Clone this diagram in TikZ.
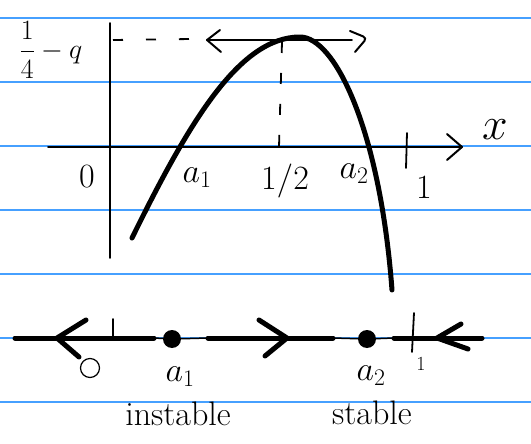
\RequirePackage{fix-cm}
\documentclass[tikz,border=0pt]{standalone}
\usepackage{amsmath}
\begin{document}
\begin{tikzpicture}[x=1pt,y=-1pt,
  ruled/.style={draw={rgb,255:red,70;green,160;blue,255},line width=1.2pt},
  axisline/.style={line width=1.8pt,line cap=round},
  curveline/.style={line width=5pt,line cap=round,line join=round},
  thickseg/.style={line width=5pt,line cap=round},
  thinseg/.style={line width=1.5pt},
  chev/.style={line width=2pt,line cap=round,line join=round},
  chevthick/.style={line width=5pt,line cap=round,line join=round},
  dotnode/.style={circle,fill=black,inner sep=0pt,minimum size=18pt},
  opennode/.style={circle,draw=black,line width=1.2pt,inner sep=0pt,minimum size=19pt},
  lbl/.style={inner sep=0pt,font=\fontsize{34}{34}\selectfont},
  wordlbl/.style={inner sep=0pt,font=\fontsize{34}{34}\selectfont}]
\useasboundingbox (0,0) rectangle (531,444);
\fill[white] (0,0) rectangle (531,444);
% ruled paper lines
\foreach \yy in {18,82,146,210,274,338,402}{
  \draw[ruled] (0,\yy) -- (531,\yy);
}
% axes
\coordinate (yb) at (110,258);
\coordinate (yt) at (110,23);
\coordinate (xl) at (48,147);
\coordinate (xr) at (462,147);
\draw[axisline] (yb) -- (yt);
\draw[axisline] (xl) -- (xr);
\draw[chev] (447,134) -- (xr) -- (447,160);
\node[inner sep=0pt,font=\fontsize{46}{46}\selectfont] (xlab) at (495,130) {$x$};
% tick at 1
\coordinate (t1a) at (407,133);
\coordinate (t1b) at (406,168);
\draw[axisline] (t1a) -- (t1b);
\node[lbl] (one) at (424,188) {$1$};
\node[lbl] (zero) at (87,177) {$0$};
\node[lbl] (a1lab) at (197,178) {$a_1$};
\node[lbl] (halflab) at (285,181) {$1/2$};
\node[lbl] (a2lab) at (354,174) {$a_2$};
% level label
\node[inner sep=0pt,font=\fontsize{28}{28}\selectfont] (qlab) at (51,50) {$\dfrac{1}{4}-q$};
% dashed guides
\coordinate (dh1) at (113,40);
\coordinate (dh2) at (192,39);
\draw[axisline,dash pattern=on 10pt off 23pt,line cap=butt] (dh1) -- (dh2);
\coordinate (dv1) at (282,42);
\coordinate (dv2) at (279,147);
\draw[axisline,dash pattern=on 11pt off 20pt,line cap=butt] (dv1) -- (dv2);
% double arrow at the top
\coordinate (hl) at (207,40);
\coordinate (hr) at (352,40);
\draw[axisline] (hl) -- (hr);
\draw[chev] (220,30) -- (hl) -- (221,52);
\draw[chev,rounded corners=4pt] (350,31) -- (367,38) -- (355,52);
% the curve
\coordinate (cs) at (132,238);
\coordinate (cp) at (300,37);
\coordinate (ce) at (392,290);
\draw[curveline] (cs) .. controls (190,120) and (240,37) .. (cp)
  .. controls (335,37) and (380,130) .. (ce);
% phase line
\node[dotnode] (d1) at (172,339) {};
\node[dotnode] (d2) at (367,339) {};
\coordinate (p0) at (15,338);
\coordinate (p1) at (154,338);
\coordinate (p2) at (208,338);
\coordinate (p3) at (333,338);
\coordinate (p4) at (394,338);
\coordinate (p5) at (482,338);
\draw[thickseg] (p0) -- (p1);
\draw[thinseg] (p1) -- (d1) -- (p2);
\draw[thickseg] (p2) -- (p3);
\draw[thinseg] (p3) -- (d2) -- (p4);
\draw[thickseg] (p4) -- (p5);
% chevrons on the phase line
\draw[chevthick] (86,320) -- (57,338) -- (79,357);
\draw[chevthick] (259,320) -- (287,338) -- (265,356);
\draw[chevthick] (461,324) -- (437,338) -- (468,349);
% ticks on the phase line
\coordinate (ta) at (113,319);
\coordinate (tb) at (113,338);
\draw[axisline] (ta) -- (tb);
\coordinate (tc) at (414,313);
\coordinate (td) at (412,352);
\draw[axisline] (tc) -- (td);
% open circle
\node[opennode] (oc) at (90,368) {};
% labels below
\node[lbl] (a1b) at (180,377) {$a_1$};
\node[lbl,font=\fontsize{20}{20}\selectfont] (oneb) at (421,364) {$1$};
\node[lbl] (a2b) at (371,376) {$a_2$};
\node[wordlbl] (inst) at (178,414) {instable};
\node[wordlbl] (stab) at (372,413) {stable};
\end{tikzpicture}
\end{document}
